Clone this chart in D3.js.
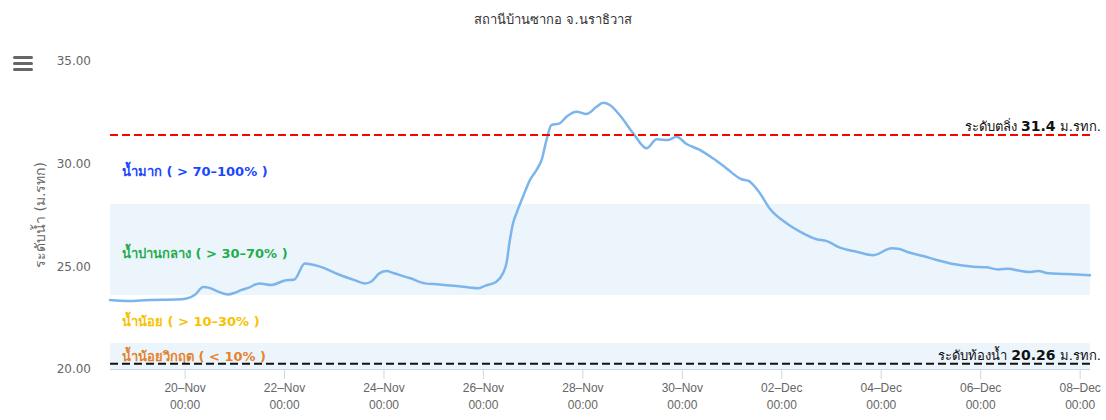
<!DOCTYPE html>
<html>
<head>
<meta charset="utf-8">
<script src="https://cdn.jsdelivr.net/npm/d3@7"></script>
<style>
html,body{margin:0;padding:0;background:#fff;}
svg{display:block;font-family:"DejaVu Sans","Noto Sans",sans-serif;}
</style>
</head>
<body>
<svg id="chart" width="1106" height="420"></svg>
<script>
// ---------- data ----------
const chartTitle = "สถานีบ้านซากอ จ.นราธิวาส";
const yAxisTitle = "ระดับน้ำ (ม.รทก)";
const times = [
 "2024-11-18 12:00","2024-11-18 21:00","2024-11-19 07:00","2024-11-19 20:00","2024-11-20 01:00",
 "2024-11-20 05:00","2024-11-20 09:00","2024-11-20 12:00","2024-11-20 16:00","2024-11-20 21:00",
 "2024-11-21 00:00","2024-11-21 03:30","2024-11-21 07:00","2024-11-21 12:00","2024-11-21 18:00",
 "2024-11-22 00:00","2024-11-22 05:00","2024-11-22 10:00","2024-11-22 17:00","2024-11-23 03:00",
 "2024-11-23 10:00","2024-11-23 15:00","2024-11-23 18:00","2024-11-23 22:00","2024-11-24 01:30",
 "2024-11-24 05:00","2024-11-24 13:00","2024-11-24 20:00","2024-11-25 03:00","2024-11-25 10:00",
 "2024-11-25 17:30","2024-11-25 21:30","2024-11-26 01:00","2024-11-26 06:30","2024-11-26 09:40",
 "2024-11-26 11:20","2024-11-26 13:00","2024-11-26 14:30","2024-11-26 16:10","2024-11-26 19:20",
 "2024-11-26 22:40","2024-11-27 01:50","2024-11-27 04:20","2024-11-27 06:40","2024-11-27 09:00",
 "2024-11-27 13:00","2024-11-27 16:20","2024-11-27 21:10","2024-11-28 02:00","2024-11-28 06:50",
 "2024-11-28 10:00","2024-11-28 13:15","2024-11-28 18:00","2024-11-29 00:30","2024-11-29 07:00",
 "2024-11-29 11:50","2024-11-29 17:25","2024-11-29 21:25","2024-11-30 02:15","2024-11-30 08:40",
 "2024-11-30 15:00","2024-11-30 21:35","2024-12-01 04:50","2024-12-01 08:00","2024-12-01 13:40",
 "2024-12-01 18:30","2024-12-02 02:30","2024-12-02 09:00","2024-12-02 17:00","2024-12-02 22:00",
 "2024-12-03 04:20","2024-12-03 12:20","2024-12-03 20:20","2024-12-04 05:20","2024-12-04 08:30",
 "2024-12-04 12:30","2024-12-04 20:30","2024-12-05 03:00","2024-12-05 11:00","2024-12-05 20:40",
 "2024-12-06 03:00","2024-12-06 08:40","2024-12-06 13:30","2024-12-06 19:10","2024-12-07 00:00",
 "2024-12-07 04:00","2024-12-07 09:00","2024-12-07 16:00","2024-12-07 22:30","2024-12-08 05:00"
];
const levels = [
 23.36,23.31,23.36,23.38,23.43,
 23.62,23.99,23.95,23.78,23.63,
 23.70,23.85,23.96,24.17,24.09,
 24.30,24.36,25.14,25.00,24.58,
 24.33,24.17,24.25,24.66,24.77,
 24.66,24.42,24.17,24.12,24.05,
 23.97,23.93,24.05,24.25,24.66,
 25.14,26.28,27.09,27.58,28.39,
 29.20,29.69,30.18,31.15,31.88,
 31.96,32.29,32.53,32.42,32.77,
 32.97,32.86,32.37,31.48,30.75,
 31.19,31.15,31.31,30.96,30.67,
 30.26,29.77,29.24,29.17,28.56,
 27.80,27.10,26.69,26.32,26.23,
 25.91,25.71,25.54,25.88,25.86,
 25.71,25.50,25.31,25.11,24.98,
 24.95,24.85,24.88,24.78,24.72,
 24.77,24.66,24.63,24.60,24.56
];
const xStart = "2024-11-18 12:00";
const xEnd = "2024-12-08 05:00";
const xTickDates = ["2024-11-20 00:00","2024-11-22 00:00","2024-11-24 00:00","2024-11-26 00:00","2024-11-28 00:00",
                    "2024-11-30 00:00","2024-12-02 00:00","2024-12-04 00:00","2024-12-06 00:00","2024-12-08 00:00"];
const yTicks = [20, 25, 30, 35];
const yDomain = [20, 35];
// plot bands: [from, to]
const bandFrom = [28.04, 23.60, 21.26, 20.00];
const bandTo   = [35.00, 28.04, 23.60, 21.26];
const bandNames = ["น้ำมาก ( > 70–100% )","น้ำปานกลาง ( > 30–70% )","น้ำน้อย ( > 10–30% )","น้ำน้อยวิกฤต ( < 10% )"];
const bandLabelLevel = [29.6, 25.65, 22.33, 20.63];
// reference lines
const refValues = [31.4, 20.26];
const refPrefix = ["ระดับตลิ่ง ", "ระดับท้องน้ำ "];
const refNumber = ["31.4", "20.26"];
const refSuffix = [" ม.รทก.", " ม.รทก."];

// ---------- styles ----------
const bandFill = ["#ffffff","#ecf5fc","#ffffff","#ecf5fc"];
const bandColor = ["#1a47ff","#1fae4c","#f7c200","#e5832d"];
const refColor = ["#ff0000","#111111"];

// ---------- chart ----------
const parse = d3.timeParse("%Y-%m-%d %H:%M");
const data = times.map((t,i)=>({t:parse(t), v:levels[i]}));
const svg = d3.select("#chart");
const m = {left:110, right:1090, top:61, bottom:369};

const x = d3.scaleTime().domain([parse(xStart), parse(xEnd)]).range([m.left, m.right]);
const y = d3.scaleLinear().domain(yDomain).range([m.bottom, m.top]);

// bands
svg.append("g").selectAll("rect").data(bandFrom).join("rect")
  .attr("x", m.left).attr("width", m.right - m.left)
  .attr("y", (d,i)=>y(bandTo[i])).attr("height",(d,i)=>y(d)-y(bandTo[i]))
  .attr("fill",(d,i)=>bandFill[i]);

// band labels
svg.append("g").selectAll("text").data(bandNames).join("text")
  .attr("x", 122).attr("y",(d,i)=>y(bandLabelLevel[i]))
  .attr("dy","0.35em")
  .attr("fill",(d,i)=>bandColor[i])
  .attr("font-size",13).attr("font-weight","bold")
  .text(d=>d);

// x axis
const xAxis = d3.axisBottom(x).tickValues(xTickDates.map(parse)).tickSize(10).tickFormat(()=>"");
const gx = svg.append("g").attr("transform",`translate(0,${m.bottom})`).call(xAxis);
gx.select(".domain").attr("stroke","#ccd6eb").attr("stroke-width",1).attr("d",`M${m.left},0.5H${m.right}`);
gx.selectAll(".tick line").attr("stroke","#ccd6eb");
const fmtD = d3.timeFormat("%d"), fmtM = d3.timeFormat("%b"), fmtT = d3.timeFormat("%H:%M");
gx.selectAll(".tick").each(function(d){
  const g = d3.select(this);
  g.select("text").remove();
  const t = g.append("text").attr("fill","#666666").attr("font-size",12).attr("text-anchor","middle");
  t.append("tspan").attr("x",0).attr("y",23).text(fmtD(d)+"–"+fmtM(d));
  t.append("tspan").attr("x",0).attr("y",40).text(fmtT(d));
});

// y axis
const yAxis = d3.axisLeft(y).tickValues(yTicks).tickSize(0).tickFormat(d3.format(".2f"));
const gy = svg.append("g").attr("transform",`translate(${m.left},0)`).call(yAxis);
gy.select(".domain").remove();
gy.selectAll(".tick text").attr("fill","#666666").attr("font-size",12).attr("x",-19)
  .attr("font-family","DejaVu Sans, sans-serif");

// y title
svg.append("text").attr("transform",`translate(40,${(m.top+m.bottom)/2}) rotate(-90)`)
  .attr("text-anchor","middle").attr("dy","0.35em")
  .attr("fill","#666666").attr("font-size",14).text(yAxisTitle);

// series line
const line = d3.line().x(d=>x(d.t)).y(d=>y(d.v)).curve(d3.curveMonotoneX);
svg.append("path").datum(data).attr("d",line)
  .attr("fill","none").attr("stroke","#7cb5ec").attr("stroke-width",2.5)
  .attr("stroke-linejoin","round").attr("stroke-linecap","round");

// reference lines
refValues.forEach((v,i)=>{
  svg.append("line").attr("x1",m.left).attr("x2",m.right)
    .attr("y1",y(v)).attr("y2",y(v))
    .attr("stroke",refColor[i]).attr("stroke-width",2).attr("stroke-dasharray","8,4");
  const t = svg.append("text").attr("x",1101).attr("y",y(v)-4)
    .attr("text-anchor","end").attr("fill","#111").attr("font-size",13);
  t.append("tspan").text(refPrefix[i]);
  t.append("tspan").attr("font-weight","bold").attr("font-size",14).text(refNumber[i]);
  t.append("tspan").text(refSuffix[i]);
});

// title
svg.append("text").attr("x",553).attr("y",24).attr("text-anchor","middle")
  .attr("fill","#333333").attr("font-size",13).text(chartTitle);

// menu icon
const menu = svg.append("g").attr("transform","translate(13,56)");
[0,6,12].forEach(dy=>menu.append("rect").attr("x",0).attr("y",dy).attr("width",20).attr("height",3)
  .attr("rx",1.5).attr("fill","#666666"));
</script>
</body>
</html>
